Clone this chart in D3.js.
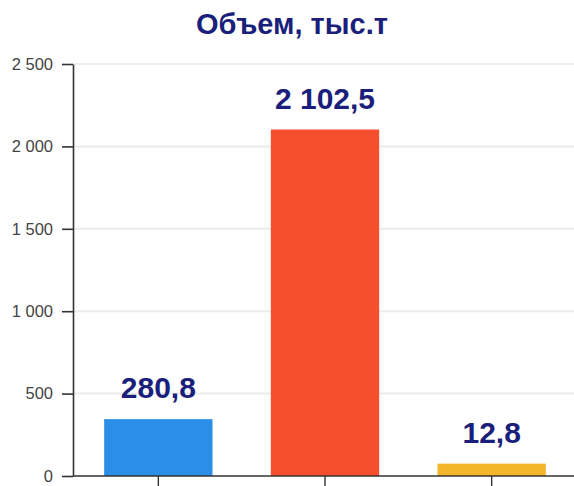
<!DOCTYPE html>
<html><head><meta charset="utf-8">
<script src="https://cdn.jsdelivr.net/npm/d3@7"></script>
<style>body{margin:0;background:#fff}svg{display:block}</style>
</head><body>
<svg id="c" width="574" height="486"></svg>
<script>
const categories = ["A", "B", "C"];
const barHeights = [345, 2102.5, 75];
const valueLabels = ["280,8", "2 102,5", "12,8"];
const barColors = ["#2b8fe8", "#f54f2e", "#f2b52b"];
const yTicks = [0, 500, 1000, 1500, 2000, 2500];
const yTickLabels = ["0", "500", "1 000", "1 500", "2 000", "2 500"];
const title = "Объем, тыс.т";

const svg = d3.select("#c");
const x = d3.scaleBand().domain(categories).range([75, 575]).paddingInner(0.35).paddingOuter(0.175);
const y = d3.scaleLinear().domain([0, 2500]).range([476, 64]);

// gridlines
svg.append("g").selectAll("line").data(yTicks.slice(1)).join("line")
  .attr("x1", 74).attr("x2", 574)
  .attr("y1", d => y(d)).attr("y2", d => y(d))
  .attr("stroke", "#ececec").attr("stroke-width", 2);

// bars
svg.append("g").selectAll("rect").data(categories).join("rect")
  .attr("x", d => x(d)).attr("width", x.bandwidth())
  .attr("y", (d, i) => y(barHeights[i]))
  .attr("height", (d, i) => y(0) - y(barHeights[i]))
  .attr("fill", (d, i) => barColors[i]);

// y axis
const yAxis = svg.append("g").attr("transform", "translate(73,0)")
  .call(d3.axisLeft(y).tickValues(yTicks).tickSize(11).tickSizeOuter(0)
    .tickFormat((d, i) => yTickLabels[i]));
yAxis.select(".domain").attr("stroke", "#333").attr("stroke-width", 1.6);
yAxis.selectAll(".tick line").attr("stroke", "#333").attr("stroke-width", 1.6);
yAxis.selectAll(".tick text").attr("fill", "#444")
  .style("font-family", "Liberation Sans, Arial, sans-serif").style("font-size", "16.5px").attr("x", -20);

// x axis
const xAxis = svg.append("g").attr("transform", "translate(0,476)")
  .call(d3.axisBottom(x).tickSize(10).tickSizeOuter(0).tickFormat(""));
xAxis.select(".domain").attr("stroke", "#333").attr("stroke-width", 1.6).attr("d", "M73,0H574");
xAxis.selectAll(".tick line").attr("stroke", "#333").attr("stroke-width", 1.4);

// value labels
svg.append("g").selectAll("text").data(categories).join("text")
  .attr("x", d => x(d) + x.bandwidth() / 2)
  .attr("y", (d, i) => y(barHeights[i]) - 21)
  .attr("text-anchor", "middle")
  .attr("fill", "#1b1f7c")
  .style("font-family", "Liberation Sans, Arial, sans-serif")
  .style("font-weight", "bold").style("font-size", "30px")
  .text((d, i) => valueLabels[i]);

// title
svg.append("text").attr("x", 292).attr("y", 34).attr("text-anchor", "middle")
  .attr("fill", "#1b1f7c")
  .style("font-family", "Liberation Sans, Arial, sans-serif")
  .style("font-weight", "bold").style("font-size", "29px")
  .text(title);
</script>
</body></html>
